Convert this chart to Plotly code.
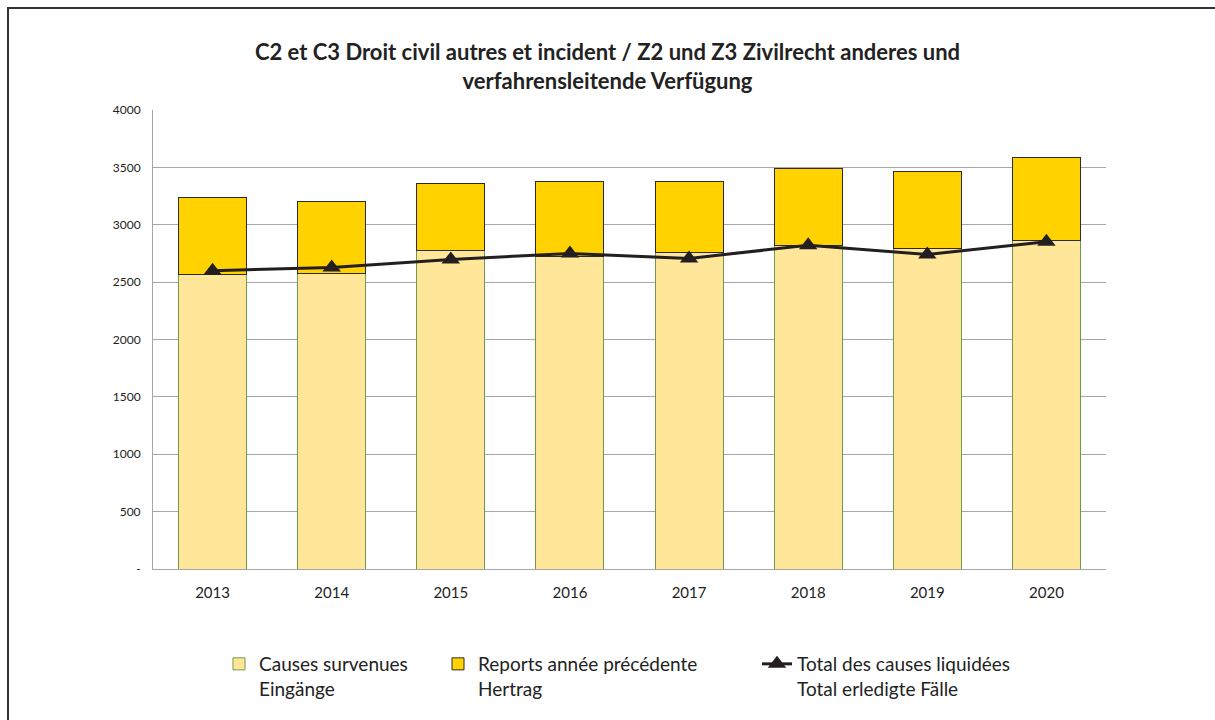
import plotly.graph_objects as go

years = ["2013", "2014", "2015", "2016", "2017", "2018", "2019", "2020"]
causes_survenues = [2570, 2572, 2776, 2726, 2759, 2822, 2793, 2866]
reports = [665, 634, 581, 649, 619, 672, 672, 721]
total_liquidees = [2600, 2628, 2698, 2750, 2706, 2822, 2741, 2851]
ytick_vals = [0, 500, 1000, 1500, 2000, 2500, 3000, 3500, 4000]
ytick_text = ["-", "500", "1000", "1500", "2000", "2500", "3000", "3500", "4000"]

FONT = "Lato"

fig = go.Figure()
fig.add_trace(go.Bar(
    x=years, y=causes_survenues, name="Causes survenues<br>Eingänge",
    marker=dict(color="#FFE699", line=dict(color="#6F9A4C", width=1)),
    legend="legend",
))
fig.add_trace(go.Bar(
    x=years, y=reports, name="Reports année précédente<br>Hertrag",
    marker=dict(color="#FFD200", line=dict(color="#2B2B2B", width=1)),
    legend="legend2",
))
fig.add_trace(go.Scatter(
    x=years, y=total_liquidees, name="Total des causes liquidées<br>Total erledigte Fälle",
    mode="lines+markers",
    line=dict(color="#231F20", width=3),
    marker=dict(symbol="triangle-up", size=16, color="#231F20"),
    legend="legend3",
))

W, H = 1215, 720
l, r, t, b = 153, 109, 110, 151
pw, ph = W - l - r, H - t - b

def px(x):
    return (x - l) / pw

def py(y):
    return (H - b - y) / ph

legend_common = dict(orientation="h", yanchor="top", xanchor="left", valign="top",
                     font=dict(family=FONT, size=19, color="#222"),
                     bgcolor="rgba(0,0,0,0)", itemwidth=30)

fig.update_layout(
    width=W, height=H,
    margin=dict(l=l, r=r, t=t, b=b),
    paper_bgcolor="white", plot_bgcolor="white",
    barmode="stack", bargap=0.43,
    showlegend=True,
    font=dict(family=FONT, color="#222"),
    title=dict(
        text="<b>C2 et C3 Droit civil autres et incident / Z2 und Z3 Zivilrecht anderes und<br>verfahrensleitende Verfügung</b>",
        x=0.5, xanchor="center", y=1 - 60 / H, yanchor="middle",
        font=dict(family=FONT, size=22, color="#222"),
    ),
    xaxis=dict(showgrid=False, showline=True, linecolor="#A6A6A6", linewidth=1,
               ticks="", ticklabelstandoff=10,
               tickfont=dict(family=FONT, size=15, color="#222")),
    yaxis=dict(range=[0, 4000], tickvals=ytick_vals, ticktext=ytick_text,
               showgrid=True, gridcolor="#A6A6A6", gridwidth=1,
               showline=True, linecolor="#A6A6A6", linewidth=1,
               zeroline=False, ticks="", ticklabelstandoff=9,
               tickfont=dict(family=FONT, size=12, color="#222")),
    legend=dict(x=px(219), y=py(645), **legend_common),
    legend2=dict(x=px(438), y=py(645), **legend_common),
    legend3=dict(x=px(757), y=py(645), **legend_common),
    shapes=[dict(type="path", xref="paper", yref="paper",
                 path=f"M {px(8)},{py(730)} L {px(8)},{py(8)} L {px(1230)},{py(8)}",
                 line=dict(color="#333", width=2))],
)

fig.write_html("out.html")
